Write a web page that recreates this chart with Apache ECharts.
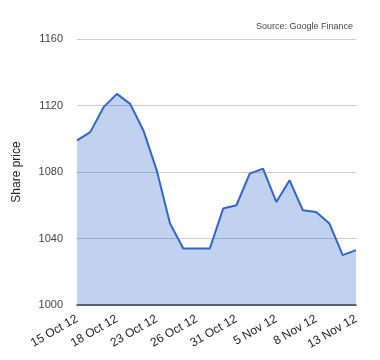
<!DOCTYPE html>
<html><head><meta charset="utf-8">
<script src="https://cdn.jsdelivr.net/npm/echarts@6/dist/echarts.min.js"></script>
<style>html,body{margin:0;padding:0;background:#fff}#c{width:380px;height:360px}</style>
</head><body><div id="c"></div>
<script>
var dates = ['15 Oct 12','16 Oct 12','17 Oct 12','18 Oct 12','19 Oct 12','22 Oct 12','23 Oct 12','24 Oct 12','25 Oct 12','26 Oct 12','29 Oct 12','30 Oct 12','31 Oct 12','1 Nov 12','2 Nov 12','5 Nov 12','6 Nov 12','7 Nov 12','8 Nov 12','9 Nov 12','12 Nov 12','13 Nov 12'];
var prices = [1099,1104,1119,1127,1121,1105,1081,1049,1034,1034,1034,1058,1060,1079,1082,1062,1075,1057,1056,1049,1030,1033];
var yTicks = {min:1000, max:1160, interval:40};
var chart = echarts.init(document.getElementById('c'));
chart.setOption({
  animation:false,
  textStyle:{fontFamily:'Liberation Sans, Arial, sans-serif'},
  graphic:[{type:'text',right:27,top:22,style:{text:'Source: Google Finance',font:'9px "Liberation Sans", Arial, sans-serif',fill:'#444',textAlign:'right'}}],
  grid:{left:77,right:24,top:39,bottom:55},
  xAxis:{type:'category',data:dates,boundaryGap:false,
    axisLine:{lineStyle:{color:'#333',width:1.5}},axisTick:{show:false},
    axisLabel:{interval:2,rotate:30,color:'#222',fontSize:12,margin:13,showMaxLabel:true}},
  yAxis:{type:'value',min:yTicks.min,max:yTicks.max,interval:yTicks.interval,
    name:'Share price',nameLocation:'middle',nameGap:54,nameTextStyle:{color:'#222',fontSize:12},
    axisLine:{show:false},axisTick:{show:false},
    axisLabel:{color:'#444',fontSize:11,margin:14,formatter:function(v){return String(v);}},
    splitLine:{lineStyle:{color:'#ccc'}}},
  series:[{type:'line',data:prices,symbol:'none',lineStyle:{color:'#3366cc',width:2},
    areaStyle:{color:'#3366cc',opacity:0.3}}]
});
</script></body></html>
